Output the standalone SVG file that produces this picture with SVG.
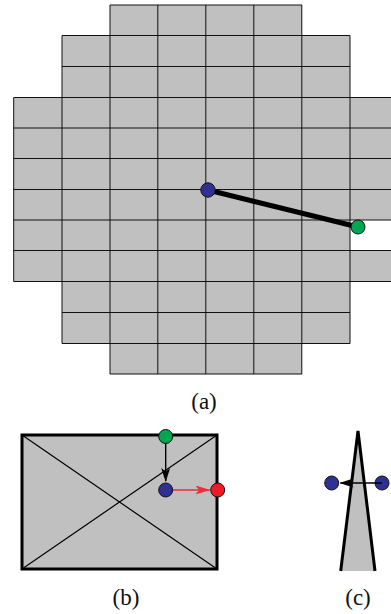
<svg xmlns="http://www.w3.org/2000/svg" width="391" height="614" viewBox="0 0 391 614">
<style>
.cell{fill:#c0c0c0;stroke:none}
.grid{fill:none;stroke:#111;stroke-width:1}
.thin{stroke:#000;stroke-width:1.200;fill:none}
.thick{stroke:#000;stroke-width:3;fill:none}
.pt{stroke:#111;stroke-width:1}
.blue{fill:#2e3192}.green{fill:#00a651}.red{fill:#ed1c24}
text{font-family:"Liberation Serif","Times New Roman",serif;font-size:23px;fill:#111;text-anchor:middle}
</style>
<defs>
<marker id="ah" markerWidth="14" markerHeight="9" refX="13" refY="4.500" orient="auto" markerUnits="userSpaceOnUse"><path d="M0 0L14 4.500L0 9L3.500 4.500Z" fill="#000"/></marker>
<marker id="ahr" markerWidth="15" markerHeight="9" refX="14" refY="4.500" orient="auto" markerUnits="userSpaceOnUse"><path d="M0 0L15 4.500L0 9L3.500 4.500Z" fill="#ed2e38"/></marker>
</defs>
<g id="panel-a">
<path class="cell" d="M110 5H302V35.500H350V97.500H391V220H350V250.500H391V281.500H350V343.500H302V374H110V343.500H62V281.500H13.700V97.500H62V35.500H110Z"/>
<path class="grid" d="M110 5H302M62 35.500H350M62 66.500H350M13.700 97.500H391M13.700 128H391M13.700 158.500H391M13.700 189.500H391M13.700 220H391M13.700 250.500H391M13.700 281.500H391M62 312.500H350M62 343.500H350M110 374H302"/>
<path class="grid" d="M13.700 97.500V281.500M62 35.500V343.500M110 5V374M157.800 5V374M205.800 5V374M253.800 5V374M301.800 5V374M350 35.500V343.500"/>
<g id="connectors-a"><line x1="208" y1="190" x2="358" y2="227" stroke="#000" stroke-width="5"/></g>
<g id="a-blue"><circle class="pt blue" cx="208" cy="190" r="7.200"/></g>
<g id="a-green"><circle class="pt green" cx="358" cy="227" r="7"/></g>
<text id="label-a" x="204" y="409">(a)</text>
</g>
<g id="panel-b">
<rect class="cell" x="22" y="435" width="195" height="134"/>
<path class="thin" d="M22 435L217 569M217 435L22 569"/>
<rect class="thick" x="22" y="435" width="195" height="134"/>
<g id="connectors-b">
<line x1="165.700" y1="437" x2="165.700" y2="481" stroke="#000" stroke-width="1.400" marker-end="url(#ah)"/>
<line x1="166" y1="490" x2="209.500" y2="490" stroke="#ed2e38" stroke-width="1.600" marker-end="url(#ahr)"/>
</g>
<g id="b-green"><circle class="pt green" cx="165.700" cy="436.500" r="7"/></g>
<g id="b-blue"><circle class="pt blue" cx="165.700" cy="490" r="7"/></g>
<g id="b-red"><circle class="pt red" cx="217.700" cy="490" r="7"/></g>
<text id="label-b" x="126" y="605">(b)</text>
</g>
<g id="panel-c">
<path class="cell" d="M358 431L375 571H340.700Z"/>
<path class="thick" d="M340.700 571L358 431L375 571"/>
<g id="c-blue-left"><circle class="pt blue" cx="331.700" cy="483" r="7"/></g>
<g id="c-blue-right"><circle class="pt blue" cx="382" cy="483" r="7"/></g>
<g id="connectors-c"><line x1="382" y1="483" x2="340.500" y2="483" stroke="#000" stroke-width="1.400" marker-end="url(#ah)"/></g>
<text id="label-c" x="358" y="605">(c)</text>
</g>
</svg>
